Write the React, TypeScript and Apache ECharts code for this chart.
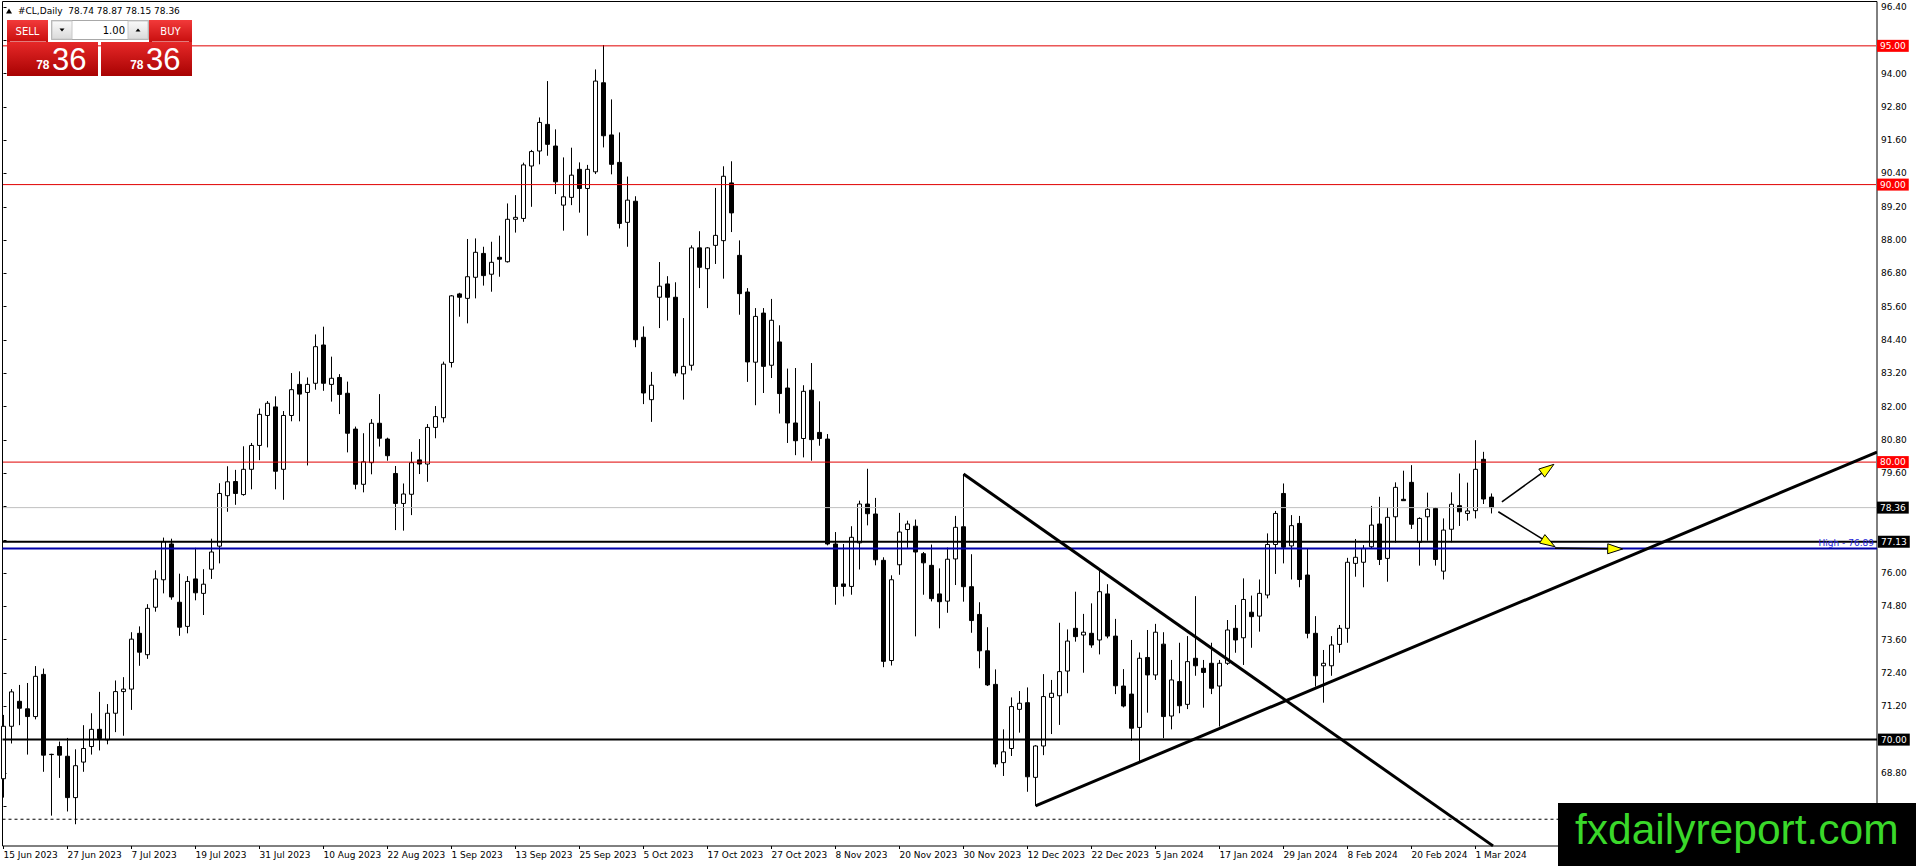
import React, { useEffect, useRef } from "react";
import * as echarts from "echarts";

// ---- Trading days (category axis) ----
const tradingDays: Array<[string, number[]]> = [
  ["Jun 2023", [15, 16, 19, 20, 21, 22, 23, 26, 27, 28, 29, 30]],
  ["Jul 2023", [3, 4, 5, 6, 7, 10, 11, 12, 13, 14, 17, 18, 19, 20, 21, 24, 25, 26, 27, 28, 31]],
  ["Aug 2023", [1, 2, 3, 4, 7, 8, 9, 10, 11, 14, 15, 16, 17, 18, 21, 22, 23, 24, 25, 28, 29, 30, 31]],
  ["Sep 2023", [1, 4, 5, 6, 7, 8, 11, 12, 13, 14, 15, 18, 19, 20, 21, 22, 25, 26, 27, 28, 29]],
  ["Oct 2023", [2, 3, 4, 5, 6, 9, 10, 11, 12, 13, 16, 17, 18, 19, 20, 23, 24, 25, 26, 27, 30, 31]],
  ["Nov 2023", [1, 2, 3, 6, 7, 8, 9, 10, 13, 14, 15, 16, 17, 20, 21, 22, 23, 24, 27, 28, 29, 30]],
  ["Dec 2023", [1, 4, 5, 6, 7, 8, 11, 12, 13, 14, 15, 18, 19, 20, 21, 22, 26, 27, 28, 29]],
  ["Jan 2024", [2, 3, 4, 5, 8, 9, 10, 11, 12, 15, 16, 17, 18, 19, 22, 23, 24, 25, 26, 29, 30, 31]],
  ["Feb 2024", [1, 2, 5, 6, 7, 8, 9, 12, 13, 14, 15, 16, 19, 20, 21, 22, 23, 26, 27, 28, 29]],
  ["Mar 2024", [1, 4, 5]],
];
const EMPTY_SLOTS = 48;

const tickLabels = [
  "15 Jun 2023", "27 Jun 2023", "7 Jul 2023", "19 Jul 2023", "31 Jul 2023", "10 Aug 2023",
  "22 Aug 2023", "1 Sep 2023", "13 Sep 2023", "25 Sep 2023", "5 Oct 2023", "17 Oct 2023",
  "27 Oct 2023", "8 Nov 2023", "20 Nov 2023", "30 Nov 2023", "12 Dec 2023", "22 Dec 2023",
  "5 Jan 2024", "17 Jan 2024", "29 Jan 2024", "8 Feb 2024", "20 Feb 2024", "1 Mar 2024",
];

const priceLabels = [96.4, 94.0, 92.8, 91.6, 90.4, 89.2, 88.0, 86.8, 85.6, 84.4, 83.2, 82.0, 80.8, 79.6, 76.0, 74.8, 73.6, 72.4, 71.2, 68.8];
const priceTicks = [96.4, 95.2, 94.0, 92.8, 91.6, 90.4, 89.2, 88.0, 86.8, 85.6, 84.4, 83.2, 82.0, 80.8, 79.6, 78.4, 77.2, 76.0, 74.8, 73.6, 72.4, 71.2, 70.0, 68.8, 67.6];

// ---- OHLC ----
const opens = [
  68.59, 70.48, 71.38, 71.11, 70.83, 72.35, 69.47, 69.75, 69.40, 67.91,
  69.19, 69.75, 70.37, 69.99, 70.95, 71.73, 71.82, 73.83, 73.06, 74.77,
  75.76, 77.05, 74.95, 74.08, 75.79, 75.27, 76.14, 76.97, 78.79, 79.30,
  78.83, 79.74, 80.60, 81.68, 81.99, 79.74, 81.68, 82.80, 82.51, 82.84,
  84.22, 82.80, 83.05, 82.48, 81.19, 79.20, 79.98, 81.40, 80.83, 79.59,
  78.51, 78.84, 80.08, 79.93, 81.25, 81.60, 83.59, 86.06, 85.90, 86.66,
  87.52, 86.77, 87.38, 87.22, 88.75, 88.78, 90.67, 91.21, 92.17, 91.39,
  89.26, 89.54, 90.55, 89.86, 90.46, 93.67, 91.79, 90.80, 88.64, 89.40,
  84.50, 82.25, 85.94, 86.42, 85.94, 83.18, 83.49, 87.72, 86.97, 87.81,
  87.98, 90.06, 87.45, 86.13, 83.60, 85.37, 83.49, 84.33, 82.67, 81.41,
  80.85, 82.59, 81.07, 80.83, 77.05, 75.61, 75.52, 77.09, 78.49, 78.13,
  76.46, 72.85, 76.30, 77.57, 77.69, 76.70, 76.28, 75.25, 74.99, 76.51,
  77.67, 75.51, 74.51, 73.20, 71.99, 69.17, 69.68, 71.09, 71.33, 68.64,
  69.77, 71.52, 71.58, 72.47, 74.01, 73.77, 73.83, 73.59, 75.25, 73.73,
  71.93, 71.64, 70.44, 72.96, 72.33, 73.44, 70.85, 72.09, 71.27, 72.93,
  72.57, 72.75, 71.93, 72.75, 74.01, 73.67, 74.59, 74.45, 75.21, 77.03,
  78.87, 76.98, 77.79, 75.93, 73.83, 72.66, 72.66, 73.43, 74.01, 76.35,
  76.39, 76.95, 77.77, 76.53, 78.03, 78.66, 79.27, 77.11, 78.03, 78.33,
  76.07, 77.58, 78.43, 78.15, 78.25, 80.10, 78.74,
];
const highs = [
  70.89, 71.82, 71.97, 72.04, 72.65, 72.56, 69.49, 69.93, 70.06, 69.65,
  70.52, 70.95, 71.72, 71.28, 72.13, 72.25, 73.87, 74.08, 74.88, 76.10,
  77.28, 77.24, 75.98, 75.89, 76.91, 76.14, 77.24, 79.24, 79.85, 79.72,
  80.57, 80.69, 81.93, 82.20, 82.37, 81.84, 83.21, 83.27, 83.05, 84.60,
  84.88, 83.80, 83.17, 82.90, 81.28, 81.04, 81.55, 82.45, 80.88, 79.86,
  79.23, 80.37, 80.83, 81.37, 82.02, 83.62, 86.02, 86.10, 88.04, 88.06,
  87.76, 87.94, 88.16, 89.32, 89.62, 90.79, 91.25, 92.42, 93.73, 91.99,
  90.98, 91.33, 90.80, 90.71, 94.15, 95.03, 93.07, 91.88, 90.29, 89.58,
  84.89, 83.25, 87.21, 86.70, 86.48, 85.19, 87.81, 88.32, 87.75, 89.88,
  90.66, 90.84, 87.99, 86.27, 85.55, 85.55, 85.88, 84.93, 83.37, 83.39,
  82.77, 83.57, 82.19, 81.01, 77.48, 77.05, 77.69, 78.61, 79.76, 78.71,
  76.57, 75.92, 78.17, 77.89, 77.93, 76.76, 77.03, 76.17, 76.92, 78.06,
  79.57, 76.68, 74.95, 74.05, 72.53, 70.37, 71.52, 71.75, 71.88, 69.80,
  72.36, 72.15, 74.21, 73.97, 75.33, 74.53, 74.91, 76.11, 75.60, 74.35,
  72.54, 73.59, 73.14, 73.95, 74.17, 73.87, 72.87, 73.49, 73.73, 75.17,
  72.87, 73.49, 72.87, 74.31, 74.85, 75.81, 75.19, 75.77, 77.43, 78.24,
  79.23, 78.09, 78.06, 76.89, 74.45, 73.23, 73.73, 74.13, 76.55, 77.23,
  77.01, 78.42, 78.75, 78.37, 79.27, 79.69, 79.89, 78.01, 78.90, 78.37,
  77.97, 78.91, 79.59, 79.26, 80.79, 80.37, 78.87,
];
const lows = [
  67.91, 69.86, 70.52, 69.46, 70.73, 68.84, 67.26, 68.62, 67.41, 66.95,
  68.84, 69.46, 69.61, 69.83, 70.27, 70.14, 71.07, 72.66, 72.91, 74.61,
  75.27, 75.04, 73.74, 73.83, 75.02, 74.49, 75.79, 76.35, 78.21, 78.46,
  78.79, 79.02, 80.07, 80.53, 79.02, 78.64, 81.47, 81.47, 79.88, 82.61,
  82.57, 82.18, 81.73, 80.35, 79.02, 78.91, 79.56, 80.56, 80.05, 77.55,
  77.53, 78.09, 79.57, 79.29, 80.86, 81.43, 83.41, 85.24, 85.00, 85.90,
  86.36, 86.14, 86.68, 87.19, 88.27, 88.66, 89.20, 90.73, 91.04, 89.66,
  88.34, 89.26, 88.99, 88.16, 90.38, 91.34, 90.37, 88.42, 87.76, 84.14,
  82.09, 81.45, 84.83, 85.10, 83.09, 82.25, 83.30, 86.27, 85.55, 87.14,
  86.61, 88.29, 85.31, 82.89, 82.05, 82.49, 83.03, 81.75, 80.69, 80.25,
  80.17, 80.05, 80.59, 77.00, 74.86, 75.16, 75.22, 76.13, 77.72, 76.28,
  72.61, 72.67, 75.94, 76.91, 73.72, 75.22, 74.98, 74.01, 74.57, 75.57,
  74.97, 73.85, 72.57, 71.93, 69.00, 68.69, 69.41, 70.25, 68.12, 67.61,
  69.44, 70.20, 70.53, 71.67, 73.53, 72.41, 73.31, 73.07, 73.65, 71.64,
  71.16, 69.96, 69.20, 70.97, 72.15, 70.05, 70.37, 70.95, 71.10, 72.30,
  71.15, 71.64, 70.47, 72.69, 73.13, 72.69, 73.31, 73.89, 75.09, 75.97,
  76.35, 75.77, 75.49, 73.65, 71.91, 71.33, 72.30, 73.13, 73.49, 75.87,
  75.49, 76.89, 76.29, 75.69, 77.10, 78.61, 77.59, 76.27, 77.17, 76.27,
  75.77, 77.11, 77.70, 77.89, 77.97, 78.49, 78.15,
];
const closes = [
  70.48, 71.72, 71.13, 70.83, 72.28, 69.44, 69.46, 69.44, 67.91, 69.06,
  69.68, 70.37, 70.04, 70.95, 71.73, 71.82, 73.62, 73.15, 74.73, 75.79,
  77.13, 75.14, 74.05, 75.70, 75.29, 75.60, 76.76, 78.87, 79.29, 78.87,
  79.74, 80.60, 81.72, 82.12, 79.67, 81.68, 82.61, 82.45, 82.80, 84.16,
  82.84, 83.02, 82.44, 81.04, 79.20, 80.01, 81.40, 80.86, 80.23, 78.51,
  78.85, 79.98, 79.93, 81.25, 81.64, 83.53, 85.99, 85.94, 86.68, 87.56,
  86.72, 87.20, 87.31, 88.75, 88.82, 90.71, 91.19, 92.24, 91.45, 90.10,
  89.56, 90.34, 89.86, 90.55, 93.73, 91.76, 90.73, 88.60, 89.44, 84.41,
  82.49, 82.77, 86.34, 85.94, 83.21, 83.45, 87.72, 87.02, 87.72, 88.17,
  90.30, 88.98, 86.07, 83.61, 85.25, 83.45, 85.11, 82.47, 81.41, 80.77,
  82.55, 80.81, 80.85, 77.05, 75.52, 75.52, 77.29, 78.49, 78.14, 76.48,
  72.82, 75.76, 77.48, 77.77, 76.76, 76.37, 75.08, 74.97, 76.50, 77.65,
  75.51, 74.29, 73.20, 71.97, 69.12, 69.56, 71.19, 71.31, 68.66, 69.77,
  71.55, 71.67, 72.45, 73.55, 73.71, 73.87, 73.41, 75.33, 73.73, 71.94,
  71.21, 70.41, 72.93, 72.33, 73.87, 70.83, 72.15, 71.22, 72.81, 72.66,
  72.42, 71.85, 72.75, 73.95, 73.59, 75.05, 74.43, 75.27, 77.03, 78.15,
  76.93, 77.71, 75.77, 73.83, 72.30, 72.75, 73.41, 74.01, 76.39, 76.57,
  76.89, 77.73, 76.49, 78.01, 79.09, 78.61, 77.76, 77.97, 78.30, 76.49,
  77.55, 78.48, 78.21, 78.24, 79.74, 78.67, 78.36,
];

// ---- Levels & drawings (data coordinates: bar index, price) ----
const redLevels = [95.0, 90.0, 80.0];
const blackLevels = [77.13, 70.0];
const bidLevel = 78.36;
const highLevel = 76.89;
const dottedLevel = 67.13;
const fallingTrend = [[120, 79.57], [186.19, 66.17]];
const risingTrend = [[129, 67.61], [234.19, 80.36]];
const arrows = [
  [187.3, 78.57, 193.8, 79.92],
  [186.85, 78.21, 193.94, 76.95],
  [193.94, 76.9, 202.4, 76.87],
];
const LEVEL_START = -0.125;
const LEVEL_END = 234.19;

const FONT = "DejaVu Sans";

function levelSeries(price: number, color: string, width: number, type: any, label: any) {
  return {
    type: "line",
    xAxisIndex: 1,
    yAxisIndex: 0,
    data: [[LEVEL_START, price], [LEVEL_END, price]],
    symbol: "none",
    clip: false,
    silent: true,
    z: 3,
    lineStyle: { color, width, type },
    endLabel: label,
  };
}

function boxLabel(bg: string, text: string) {
  return {
    show: true,
    formatter: text,
    distance: 1,
    backgroundColor: bg,
    color: "#fff",
    fontFamily: FONT,
    fontSize: 9,
    lineHeight: 10,
    padding: [1, 3, 1, 3],
  };
}

export default function App() {
  const ref = useRef<HTMLDivElement>(null);
  useEffect(() => {
    document.body.style.margin = "0";
    if (!ref.current) return;
    const chart = echarts.init(ref.current, undefined, { renderer: "svg" });

    const dates: string[] = [];
    tradingDays.forEach(([month, days]) => days.forEach((d) => dates.push(`${d} ${month}`)));
    const categories = dates.concat(Array.from({ length: EMPTY_SLOTS }, (_, k) => `~${k}`));
    const candleData = opens.map((o, i) => [o, closes[i], lows[i], highs[i]]);
    const showTick = (_i: number, v: string) => tickLabels.indexOf(v) >= 0;
    const last = opens.length - 1;

    const redGrad = new echarts.graphic.LinearGradient(0, 0, 0, 1, [
      { offset: 0, color: "#f23a3a" },
      { offset: 1, color: "#c80e0e" },
    ]);
    const redGrad2 = new echarts.graphic.LinearGradient(0, 0, 0, 1, [
      { offset: 0, color: "#e62828" },
      { offset: 1, color: "#a80202" },
    ]);
    const greyGrad = new echarts.graphic.LinearGradient(0, 0, 0, 1, [
      { offset: 0, color: "#fafafa" },
      { offset: 1, color: "#dadada" },
    ]);

    const series: any[] = [
      {
        type: "candlestick",
        xAxisIndex: 0,
        yAxisIndex: 0,
        data: candleData,
        barWidth: 5,
        z: 2,
        itemStyle: {
          color: "#ffffff",
          color0: "#000000",
          borderColor: "#000000",
          borderColor0: "#000000",
          borderWidth: 1,
        },
      },
    ];
    redLevels.forEach((p) =>
      series.push(levelSeries(p, "#e00000", 1, "solid", boxLabel("#ff0000", p.toFixed(2))))
    );
    series.push(levelSeries(bidLevel, "#c0c0c0", 1, "solid", boxLabel("#000000", bidLevel.toFixed(2))));
    blackLevels.forEach((p) =>
      series.push(levelSeries(p, "#000000", 2, "solid", boxLabel("#000000", p.toFixed(2))))
    );
    series.push(
      levelSeries(highLevel, "#0000a8", 2, "solid", {
        show: true,
        formatter: `High - ${highLevel.toFixed(2)}`,
        distance: 0,
        align: "right",
        offset: [-3, -5],
        color: "#2424d8",
        fontFamily: FONT,
        fontSize: 9,
      })
    );
    series.push(levelSeries(dottedLevel, "#000000", 1, [3, 3], { show: false }));
    [fallingTrend, risingTrend].forEach((t) =>
      series.push({
        type: "line",
        xAxisIndex: 1,
        yAxisIndex: 0,
        data: t,
        symbol: "none",
        clip: false,
        silent: true,
        z: 4,
        lineStyle: { color: "#000", width: 3 },
      })
    );
    series.push({
      type: "custom",
      xAxisIndex: 1,
      yAxisIndex: 0,
      data: arrows,
      encode: { x: [0, 2], y: [1, 3] },
      clip: false,
      silent: true,
      z: 5,
      renderItem: (_p: any, api: any) => {
        const s = api.coord([api.value(0), api.value(1)]);
        const t = api.coord([api.value(2), api.value(3)]);
        const dx = t[0] - s[0];
        const dy = t[1] - s[1];
        const len = Math.hypot(dx, dy) || 1;
        const ux = dx / len;
        const uy = dy / len;
        const hl = 15;
        const hw = 5;
        const bx = t[0] - ux * hl;
        const by = t[1] - uy * hl;
        return {
          type: "group",
          children: [
            {
              type: "line",
              shape: { x1: s[0], y1: s[1], x2: bx, y2: by },
              style: { stroke: "#000", lineWidth: 1.6 },
            },
            {
              type: "polygon",
              shape: {
                points: [
                  [t[0], t[1]],
                  [bx - uy * hw, by + ux * hw],
                  [bx + uy * hw, by - ux * hw],
                ],
              },
              style: { fill: "#ffff00", stroke: "#000", lineWidth: 1 },
            },
          ],
        };
      },
    });

    const txt = (x: number, y: number, text: string, font: string, fill: string, align = "left") => ({
      type: "text",
      x,
      y,
      silent: true,
      z: 100,
      style: { text, font, fill, align, verticalAlign: "middle" },
    });

    const graphic: any[] = [
      {
        type: "rect",
        shape: { x: 2.5, y: 1.5, width: 1874.5, height: 844.5 },
        style: { fill: "none", stroke: "#000", lineWidth: 1 },
        silent: true,
        z: 1,
      },
      // header
      {
        type: "polygon",
        shape: { points: [[6, 13.5], [12, 13.5], [9, 8.5]] },
        style: { fill: "#000" },
        silent: true,
        z: 100,
      },
      txt(
        18,
        11,
        `#CL,Daily  ${opens[last].toFixed(2)} ${highs[last].toFixed(2)} ${lows[last].toFixed(2)} ${closes[last].toFixed(2)}`,
        `9px '${FONT}'`,
        "#000"
      ),
      // SELL label
      { type: "rect", shape: { x: 7, y: 20, width: 41, height: 22 }, style: { fill: redGrad }, silent: true, z: 100 },
      txt(27.5, 31.5, "SELL", `10px '${FONT}'`, "#fff", "center"),
      // spinner
      { type: "rect", shape: { x: 51.5, y: 20.5, width: 97, height: 19 }, style: { fill: "#fff", stroke: "#a8a8a8", lineWidth: 1 }, silent: true, z: 100 },
      { type: "rect", shape: { x: 52, y: 21, width: 20, height: 18 }, style: { fill: greyGrad, stroke: "#c8c8c8", lineWidth: 1 }, silent: true, z: 100 },
      { type: "polygon", shape: { points: [[59.5, 28.5], [64.5, 28.5], [62, 31.5]] }, style: { fill: "#000" }, silent: true, z: 101 },
      txt(125, 30, "1.00", `10px '${FONT}'`, "#000", "right"),
      { type: "rect", shape: { x: 128, y: 21, width: 20, height: 18 }, style: { fill: greyGrad, stroke: "#c8c8c8", lineWidth: 1 }, silent: true, z: 100 },
      { type: "polygon", shape: { points: [[135.5, 31.5], [140.5, 31.5], [138, 28.5]] }, style: { fill: "#000" }, silent: true, z: 101 },
      // BUY label
      { type: "rect", shape: { x: 149, y: 20, width: 43, height: 22 }, style: { fill: redGrad }, silent: true, z: 100 },
      txt(170.5, 31.5, "BUY", `10px '${FONT}'`, "#fff", "center"),
      { type: "line", shape: { x1: 10, y1: 41.5, x2: 46, y2: 41.5 }, style: { stroke: "rgba(255,255,255,0.45)", lineWidth: 1 }, silent: true, z: 101 },
      { type: "line", shape: { x1: 152, y1: 41.5, x2: 189, y2: 41.5 }, style: { stroke: "rgba(255,255,255,0.45)", lineWidth: 1 }, silent: true, z: 101 },
      // price boxes
      { type: "rect", shape: { x: 7, y: 42, width: 91, height: 34 }, style: { fill: redGrad2 }, silent: true, z: 100 },
      { type: "rect", shape: { x: 101, y: 42, width: 91, height: 34 }, style: { fill: redGrad2 }, silent: true, z: 100 },
      txt(49.5, 65, "78", "bold 12px 'Liberation Sans'", "#fff", "right"),
      txt(52, 59, "36", "31px 'Liberation Sans'", "#fff"),
      txt(143.5, 65, "78", "bold 12px 'Liberation Sans'", "#fff", "right"),
      txt(146, 59, "36", "31px 'Liberation Sans'", "#fff"),
      // watermark
      { type: "rect", shape: { x: 1558, y: 803, width: 358, height: 63 }, style: { fill: "#000" }, silent: true, z: 100 },
      txt(1575, 829.5, "fxdailyreport.com", "42.5px 'Liberation Sans'", "#3ad82a"),
    ];

    chart.setOption({
      animation: false,
      textStyle: { fontFamily: FONT },
      backgroundColor: "#ffffff",
      grid: {
        left: 3.5,
        top: 1.5,
        width: 1872,
        height: 844.5,
        containLabel: false,
        outerBoundsMode: "none",
      },
      xAxis: [
        {
          type: "category",
          data: categories,
          boundaryGap: false,
          axisLine: { show: false },
          axisTick: { show: true, interval: showTick, length: 3, lineStyle: { color: "#000" } },
          axisLabel: {
            interval: showTick,
            align: "left",
            margin: 4,
            fontSize: 9,
            fontFamily: FONT,
            color: "#000",
          },
          splitLine: { show: false },
        },
        {
          type: "value",
          min: 0,
          max: categories.length - 1,
          show: false,
        },
      ],
      yAxis: [
        {
          type: "value",
          position: "right",
          offset: 1.5,
          min: 66.166,
          max: 96.598,
          scale: true,
          axisLine: { show: false },
          axisTick: { show: true, customValues: priceTicks, length: 3, lineStyle: { color: "#000" } },
          axisLabel: {
            customValues: priceLabels,
            formatter: (v: number) => v.toFixed(2),
            margin: 4,
            fontSize: 9,
            fontFamily: FONT,
            color: "#000",
          },
          splitLine: { show: false },
        },
      ],
      series,
      graphic,
    });

    return () => chart.dispose();
  }, []);

  return <div ref={ref} style={{ width: 1916, height: 866 }} />;
}
